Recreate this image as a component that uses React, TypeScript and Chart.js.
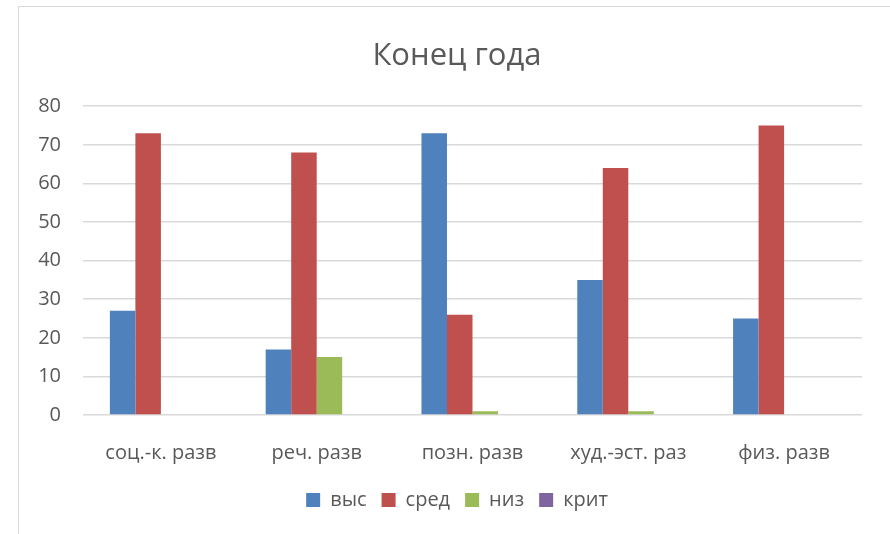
import React, { useEffect, useRef } from "react";
import { Chart, registerables } from "chart.js";

Chart.register(...registerables);

const titleText = "Конец года";
const categories = ["соц.-к. разв", "реч. разв", "позн. разв", "худ.-эст. раз", "физ. разв"];
const seriesNames = ["выс", "сред", "низ", "крит"];
const vysValues = [27, 17, 73, 35, 25];
const sredValues = [73, 68, 26, 64, 75];
const nizValues = [0, 15, 1, 1, 0];
const kritValues = [0, 0, 0, 0, 0];
const seriesColors = ["#4F81BD", "#C0504D", "#9BBB59", "#8064A2"];
const yMin = 0;
const yMax = 80;
const yStep = 10;

const FONT = "'Open Sans', 'Noto Sans', sans-serif";
const TEXT = "#595959";

export default function App() {
  const canvasRef = useRef<HTMLCanvasElement | null>(null);

  useEffect(() => {
    document.body.style.margin = "0";
    const ctx = canvasRef.current!;
    const values = [vysValues, sredValues, nizValues, kritValues];
    const chart = new Chart(ctx, {
      type: "bar",
      data: {
        labels: categories,
        datasets: seriesNames.map((name, i) => ({
          label: name,
          data: values[i],
          backgroundColor: seriesColors[i],
          borderWidth: 0,
          categoryPercentage: 0.655,
          barPercentage: 1.0,
          yAxisID: "y",
        })),
      },
      options: {
        animation: false,
        responsive: false,
        maintainAspectRatio: false,
        layout: { padding: { left: 0, right: 0, top: 0, bottom: 14 } },
        plugins: {
          title: {
            display: true,
            text: titleText,
            color: TEXT,
            font: { family: FONT, size: 31, weight: "normal" },
            padding: { top: 31, bottom: 31 },
          },
          legend: {
            display: true,
            position: "bottom",
            labels: {
              color: TEXT,
              font: { family: FONT, size: 20 },
              boxWidth: 14,
              boxHeight: 14,
              padding: 15,
            },
          },
          tooltip: { enabled: false },
        },
        scales: {
          x: {
            grid: { display: false, drawTicks: false },
            border: { display: false },
            ticks: { color: TEXT, font: { family: FONT, size: 20 }, padding: 26, maxRotation: 0, autoSkip: false },
            afterFit: (s: any) => {
              s.height = 60;
            },
          },
          y: {
            min: yMin,
            max: yMax,
            grid: { color: "#D9D9D9", lineWidth: 1.5, drawTicks: false },
            border: { display: false },
            ticks: { stepSize: yStep, color: TEXT, font: { family: FONT, size: 20 }, padding: 22 },
            afterFit: (s: any) => {
              s.width = 64;
            },
          },
          spacer: {
            position: "right",
            display: true,
            grid: { display: false, drawTicks: false },
            border: { display: false },
            ticks: { display: false },
            afterFit: (s: any) => {
              s.width = 33;
            },
          },
        },
      },
    });
    return () => chart.destroy();
  }, []);

  return (
    <div style={{ position: "fixed", left: 0, top: 0, width: 890, height: 534, overflow: "hidden", background: "#fff" }}>
      <div
        style={{
          position: "absolute",
          left: 18,
          top: 6,
          width: 900,
          height: 560,
          border: "1px solid #D9D9D9",
          boxSizing: "border-box",
        }}
      >
        <canvas ref={canvasRef} width={876} height={527} style={{ display: "block", width: 876, height: 527 }} />
      </div>
    </div>
  );
}
